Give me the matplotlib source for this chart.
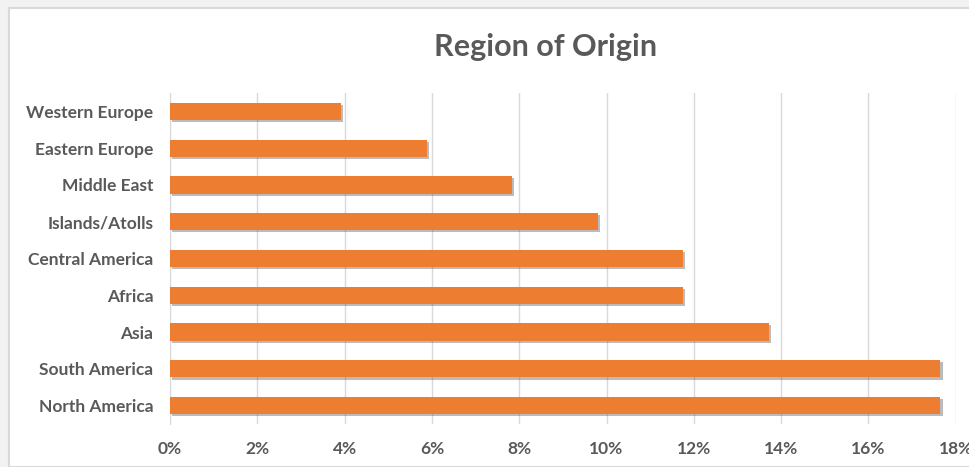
import matplotlib.pyplot as plt
import matplotlib.patheffects as pe
from matplotlib.patches import Rectangle
from matplotlib.ticker import FuncFormatter, MultipleLocator

regions = ["Western Europe", "Eastern Europe", "Middle East", "Islands/Atolls",
           "Central America", "Africa", "Asia", "South America", "North America"]
share = [3.92, 5.88, 7.84, 9.80, 11.76, 11.76, 13.73, 17.65, 17.65]

plt.rcParams['font.family'] = ['Lato', 'DejaVu Sans']

fig = plt.figure(figsize=(9.69, 4.67), dpi=100)
fig.patch.set_facecolor('#f2f2f2')

# white chart area with thin gray border (screenshot frame)
frame = Rectangle((8.5 / 969, 0), 1, 1 - 7.5 / 467, transform=fig.transFigure,
                  facecolor='white', edgecolor='#d9d9d9', linewidth=1.5, zorder=-10)
fig.patches.append(frame)

ax = fig.add_axes([170 / 969, 1 - 424 / 467, (955.7 - 170) / 969, (424 - 93) / 467])
ax.set_facecolor('none')

pos = list(range(len(regions)))
bars = ax.barh(pos, share, height=0.47, color='#ED7D31', zorder=3)
for b in bars:
    b.set_path_effects([pe.SimplePatchShadow(offset=(1.5, -1.5), shadow_rgbFace='#555555', alpha=0.4),
                        pe.Normal()])

ax.set_xlim(0, 18)
ax.set_ylim(len(regions) - 0.5, -0.5)
ax.set_yticks(pos)
ax.set_yticklabels(regions)
ax.xaxis.set_major_locator(MultipleLocator(2))
ax.xaxis.set_major_formatter(FuncFormatter(lambda v, p: f"{v:.0f}%"))

ax.grid(axis='x', color='#d9d9d9', linewidth=1, zorder=0)
ax.set_axisbelow(True)
for s in ['top', 'right', 'bottom']:
    ax.spines[s].set_visible(False)
ax.spines['left'].set_color('#d9d9d9')
ax.tick_params(length=0, colors='#595959')
ax.tick_params(axis='y', pad=12)
ax.tick_params(axis='x', pad=12)
for t in ax.get_yticklabels() + ax.get_xticklabels():
    t.set_fontsize(12.5)
    t.set_fontweight('bold')
    t.set_color('#595959')

fig.text(0.5625, 1 - 47 / 467, "Region of Origin", ha='center', va='center',
         fontsize=22, fontweight='bold', color='#595959')

fig.savefig('out.png', dpi=100, facecolor=fig.get_facecolor())
